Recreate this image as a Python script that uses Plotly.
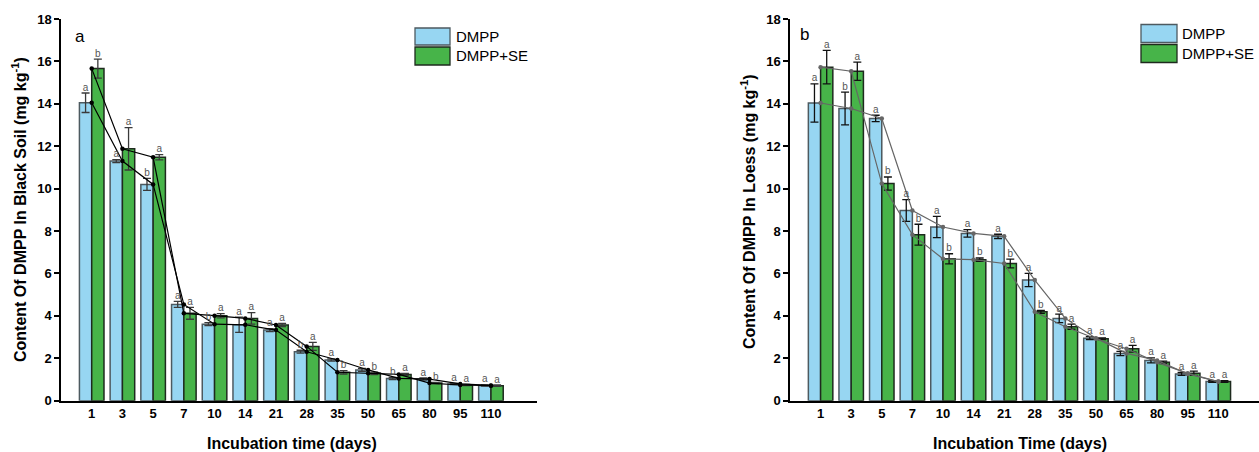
import plotly.graph_objects as go

categories = ["1", "3", "5", "7", "10", "14", "21", "28", "35", "50", "65", "80", "95", "110"]

# Panel a: Black soil
a_dmpp = [14.05, 11.30, 10.20, 4.54, 3.61, 3.58, 3.33, 2.31, 1.92, 1.45, 1.05, 1.02, 0.79, 0.72]
a_dmpp_err = [0.46, 0.07, 0.28, 0.14, 0.07, 0.36, 0.07, 0.07, 0.05, 0.07, 0.05, 0.05, 0.03, 0.03]
a_dmpp_let = ["a", "a", "b", "a", "b", "a", "a", "b", "a", "a", "b", "a", "a", "a"]
a_se = [15.66, 11.88, 11.48, 4.12, 4.01, 3.88, 3.57, 2.56, 1.34, 1.29, 1.24, 0.83, 0.74, 0.71]
a_se_err = [0.45, 1.00, 0.12, 0.28, 0.10, 0.27, 0.07, 0.19, 0.08, 0.06, 0.05, 0.03, 0.03, 0.03]
a_se_let = ["b", "a", "a", "a", "a", "a", "a", "a", "b", "b", "a", "b", "a", "a"]

# Panel b: Loess
b_dmpp = [14.04, 13.78, 13.31, 8.97, 8.19, 7.89, 7.75, 5.69, 3.88, 2.95, 2.23, 1.90, 1.26, 0.90]
b_dmpp_err = [0.90, 0.77, 0.15, 0.51, 0.50, 0.18, 0.10, 0.31, 0.20, 0.07, 0.10, 0.12, 0.07, 0.04]
b_dmpp_let = ["a", "b", "a", "a", "a", "a", "a", "a", "a", "a", "a", "a", "a", "a"]
b_se = [15.73, 15.54, 10.24, 7.83, 6.69, 6.65, 6.47, 4.19, 3.49, 2.92, 2.45, 1.81, 1.29, 0.90]
b_se_err = [0.79, 0.43, 0.31, 0.49, 0.24, 0.08, 0.21, 0.07, 0.12, 0.04, 0.16, 0.06, 0.10, 0.04]
b_se_let = ["a", "a", "b", "b", "b", "b", "b", "b", "a", "a", "a", "a", "a", "a"]

BLUE = "#97D6F2"
GREEN = "#47B449"
FONT = "Arial, Liberation Sans, sans-serif"

W, H = 1259, 452
idx = list(range(len(categories)))

fig = go.Figure()

def add_panel(xa, ya, d1, e1, l1, d2, e2, l2, line_color, err_color):
    xn = "x" if xa == 1 else f"x{xa}"
    yn = "y" if ya == 1 else f"y{ya}"
    fig.add_trace(go.Bar(x=idx, y=d1, xaxis=xn, yaxis=yn, offsetgroup="1",
                         marker=dict(color=BLUE, line=dict(color="#4d5a60", width=1.5)),
                         error_y=dict(type="data", array=e1, color=err_color, thickness=1.3, width=4),
                         showlegend=False, name="DMPP"))
    fig.add_trace(go.Bar(x=idx, y=d2, xaxis=xn, yaxis=yn, offsetgroup="2",
                         marker=dict(color=GREEN, line=dict(color="#1e2a1e", width=1.5)),
                         error_y=dict(type="data", array=e2, color=err_color, thickness=1.3, width=4),
                         showlegend=False, name="DMPP+SE"))
    for d in (d1, d2):
        fig.add_trace(go.Scatter(x=idx, y=d, xaxis=xn, yaxis=yn, mode="lines+markers",
                                 line=dict(color=line_color, width=1.2),
                                 marker=dict(color=line_color, size=4.5),
                                 showlegend=False, hoverinfo="skip"))
    for d, e, l, off in ((d1, e1, l1, -0.2), (d2, e2, l2, 0.2)):
        fig.add_trace(go.Scatter(x=[i + off for i in idx], y=[v + s for v, s in zip(d, e)],
                                 xaxis=xn, yaxis=yn, mode="text", text=l,
                                 textposition="top center",
                                 textfont=dict(family=FONT, size=10, color="#555555"),
                                 showlegend=False, hoverinfo="skip"))

add_panel(1, 1, a_dmpp, a_dmpp_err, a_dmpp_let, a_se, a_se_err, a_se_let, "#000000", "#3a3a3a")
add_panel(2, 2, b_dmpp, b_dmpp_err, b_dmpp_let, b_se, b_se_err, b_se_let, "#666666", "#111111")

def px_x(p):
    return p / W

def px_y(p):
    return 1 - p / H

top, bottom = 19, 400.7
ydom = [px_y(bottom), px_y(top)]

xaxis_common = dict(tickmode="array", tickvals=idx, ticktext=categories,
                    showline=True, linecolor="black", linewidth=2, ticks="",
                    showgrid=False, zeroline=False, automargin=False,
                    tickfont=dict(family=FONT, size=13, color="black", weight="bold"))
yaxis_common = dict(range=[0, 18], dtick=2, showline=True, linecolor="black", linewidth=1.5,
                    ticks="outside", ticklen=5, tickwidth=1.5, tickcolor="black",
                    showgrid=False, zeroline=False, automargin=False,
                    tickfont=dict(family=FONT, size=13, color="black", weight="bold"))

fig.update_layout(
    width=W, height=H, autosize=False,
    margin=dict(l=0, r=0, t=0, b=0, pad=0, autoexpand=False),
    paper_bgcolor="white", plot_bgcolor="white",
    barmode="group", bargap=0.2, bargroupgap=0,
    xaxis=dict(domain=[px_x(61), px_x(537)], range=[-1.0, 14.5], anchor="y", **xaxis_common),
    yaxis=dict(domain=ydom, anchor="x", **yaxis_common),
    xaxis2=dict(domain=[px_x(790), 1.0], range=[-1.0, 14.33], anchor="y2", **xaxis_common),
    yaxis2=dict(domain=ydom, anchor="x2", **yaxis_common),
)

ann = []
bold = dict(family=FONT, size=16, color="black", weight="bold")
ann.append(dict(text="Content Of DMPP In Black Soil (mg kg<sup>-1</sup>)", x=px_x(19), y=px_y(210),
                xref="paper", yref="paper", textangle=-90, showarrow=False, font=bold,
                xanchor="center", yanchor="middle"))
ann.append(dict(text="Content Of DMPP In Loess (mg kg<sup>-1</sup>)", x=px_x(748), y=px_y(212),
                xref="paper", yref="paper", textangle=-90, showarrow=False, font=bold,
                xanchor="center", yanchor="middle"))
ann.append(dict(text="Incubation time (days)", x=px_x(292), y=px_y(443),
                xref="paper", yref="paper", showarrow=False, font=bold,
                xanchor="center", yanchor="middle"))
ann.append(dict(text="Incubation Time (days)", x=px_x(1020), y=px_y(443),
                xref="paper", yref="paper", showarrow=False, font=bold,
                xanchor="center", yanchor="middle"))
ann.append(dict(text="a", x=px_x(73), y=px_y(36), xref="paper", yref="paper", showarrow=False,
                font=dict(family=FONT, size=17, color="black"), xanchor="left", yanchor="middle"))
ann.append(dict(text="b", x=px_x(798), y=px_y(35), xref="paper", yref="paper", showarrow=False,
                font=dict(family=FONT, size=17, color="black"), xanchor="left", yanchor="middle"))

shapes = []
legends = [((415, 450), (28, 45), (47, 65), 455), ((1141, 1177), (24.5, 42.5), (44.5, 62.5), 1181)]
for (x0, x1), r1, r2, tx in legends:
    for (y0, y1), col, lc, label in ((r1, BLUE, "#4d5a60", "DMPP"), (r2, GREEN, "#1e2a1e", "DMPP+SE")):
        shapes.append(dict(type="rect", xref="paper", yref="paper",
                           x0=px_x(x0), x1=px_x(x1), y0=px_y(y1), y1=px_y(y0),
                           fillcolor=col, line=dict(color=lc, width=1.3)))
        ann.append(dict(text=label, x=px_x(tx), y=px_y((y0 + y1) / 2), xref="paper", yref="paper",
                        showarrow=False, xanchor="left", yanchor="middle", borderpad=0,
                        font=dict(family=FONT, size=15, color="black")))

fig.update_layout(annotations=ann, shapes=shapes)
fig.write_html("out.html", config={"displayModeBar": False},
               post_script="document.body.style.margin='0px';document.body.style.overflow='hidden';")
